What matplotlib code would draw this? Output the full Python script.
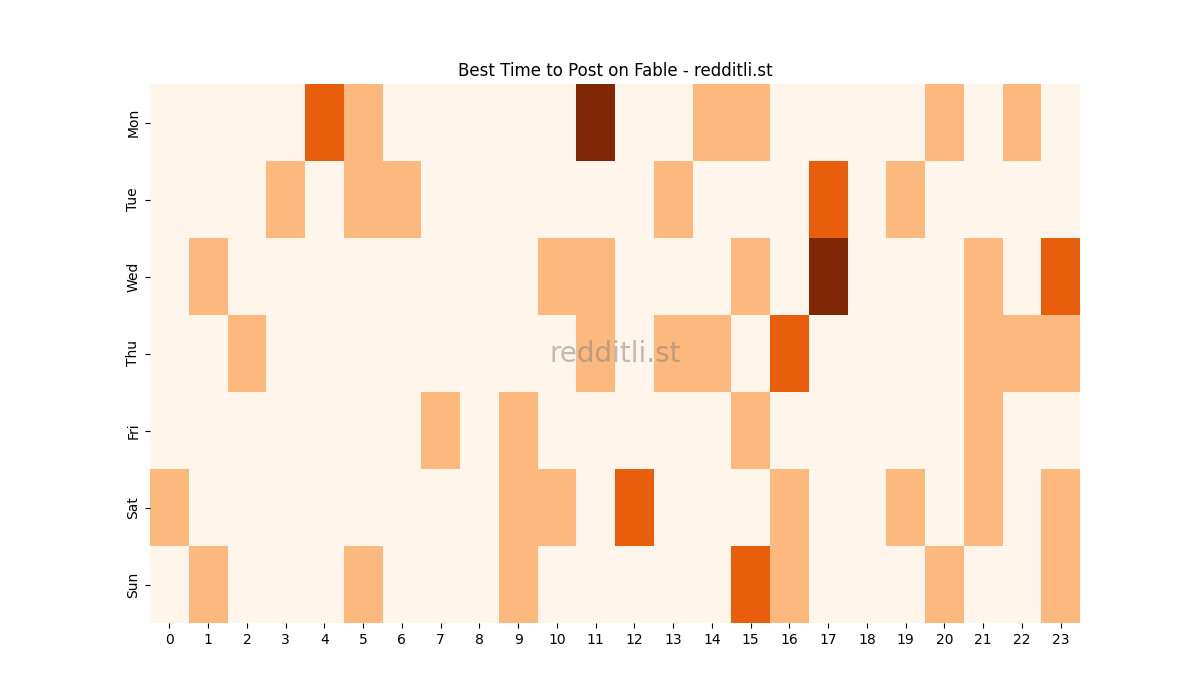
import numpy as np
import matplotlib
matplotlib.use("Agg")
import matplotlib.pyplot as plt
import seaborn as sns

days = ["Mon", "Tue", "Wed", "Thu", "Fri", "Sat", "Sun"]
hours = list(range(24))

# activity level per hour (0-3)
mon = [0, 0, 0, 0, 2, 1, 0, 0, 0, 0, 0, 3, 0, 0, 1, 1, 0, 0, 0, 0, 1, 0, 1, 0]
tue = [0, 0, 0, 1, 0, 1, 1, 0, 0, 0, 0, 0, 0, 1, 0, 0, 0, 2, 0, 1, 0, 0, 0, 0]
wed = [0, 1, 0, 0, 0, 0, 0, 0, 0, 0, 1, 1, 0, 0, 0, 1, 0, 3, 0, 0, 0, 1, 0, 2]
thu = [0, 0, 1, 0, 0, 0, 0, 0, 0, 0, 0, 1, 0, 1, 1, 0, 2, 0, 0, 0, 0, 1, 1, 1]
fri = [0, 0, 0, 0, 0, 0, 0, 1, 0, 1, 0, 0, 0, 0, 0, 1, 0, 0, 0, 0, 0, 1, 0, 0]
sat = [1, 0, 0, 0, 0, 0, 0, 0, 0, 1, 1, 0, 2, 0, 0, 0, 1, 0, 0, 1, 0, 1, 0, 1]
sun = [0, 1, 0, 0, 0, 1, 0, 0, 0, 1, 0, 0, 0, 0, 0, 2, 1, 0, 0, 0, 1, 0, 0, 1]

grid = np.array([mon, tue, wed, thu, fri, sat, sun])

fig, ax = plt.subplots(figsize=(12, 7), dpi=100)
sns.heatmap(grid, cmap="Oranges", vmin=0, vmax=3, cbar=False,
            xticklabels=hours, yticklabels=days, ax=ax)
ax.set_title("Best Time to Post on Fable - redditli.st")
plt.setp(ax.get_yticklabels(), rotation=90, va="center")
plt.setp(ax.get_xticklabels(), rotation=0)

# watermark
ax.text(0.5, 0.5, "redditli.st", transform=ax.transAxes, fontsize=20,
        color="gray", alpha=0.5, ha="center", va="center")

fig.savefig("out.png")
